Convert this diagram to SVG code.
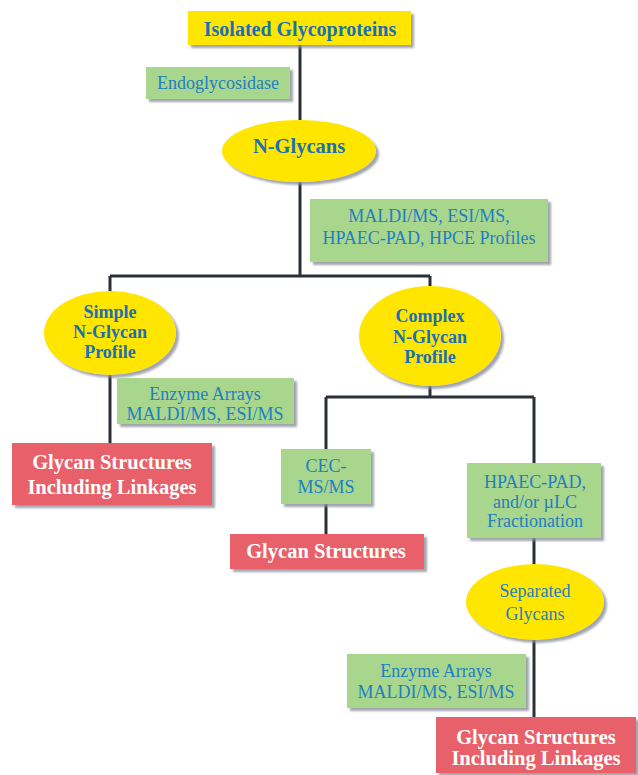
<svg xmlns="http://www.w3.org/2000/svg" width="638" height="775" viewBox="0 0 638 775">
  <defs>
    <filter id="shadow" x="-10%" y="-10%" width="130%" height="140%">
      <feDropShadow dx="3" dy="3" stdDeviation="1" flood-color="#8a8f9a" flood-opacity="0.8"/>
    </filter>
  </defs>
  <style>
    .yellow { fill: #ffe600; filter: url(#shadow); }
    .green { fill: #a8d68c; filter: url(#shadow); }
    .red { fill: #e8616a; filter: url(#shadow); }
    .link { stroke: #2b2f36; stroke-width: 3; fill: none; }
    text { font-family: "Liberation Serif", "Times New Roman", serif; text-anchor: middle; dominant-baseline: central; }
    .bold { font-weight: bold; fill: #1b6fb3; }
    .plain { fill: #1f7fc2; font-size: 18px; }
    .white { font-weight: bold; fill: #ffffff; font-size: 20.5px; }
  </style>

  <!-- connectors -->
  <g id="connectors" class="link">
    <path d="M300 45 V120"/>
    <path d="M300 182 V276"/>
    <path d="M110 276 H430"/>
    <path d="M110 276 V292"/>
    <path d="M430 276 V286"/>
    <path d="M110 375 V443"/>
    <path d="M430 386 V397"/>
    <path d="M326 397 H534"/>
    <path d="M326 397 V449"/>
    <path d="M326 504 V534"/>
    <path d="M534 397 V463"/>
    <path d="M534 538 V565"/>
    <path d="M534 640 V717"/>
  </g>

  <g id="isolated-glycoproteins">
    <rect class="yellow" x="188" y="11" width="223" height="34"/>
    <text class="bold" x="300" y="29" font-size="20">Isolated Glycoproteins</text>
  </g>

  <g id="endoglycosidase">
    <rect class="green" x="146" y="67" width="144" height="32"/>
    <text class="plain" x="218" y="83">Endoglycosidase</text>
  </g>

  <g id="n-glycans">
    <ellipse class="yellow" cx="299" cy="151" rx="77" ry="31"/>
    <text class="bold" x="299" y="146" font-size="20.5">N-Glycans</text>
  </g>

  <g id="profiles">
    <rect class="green" x="310" y="199" width="238" height="63"/>
    <text class="plain" x="429" y="216">MALDI/MS, ESI/MS,</text>
    <text class="plain" x="429" y="238">HPAEC-PAD, HPCE Profiles</text>
  </g>

  <g id="simple-profile">
    <ellipse class="yellow" cx="110" cy="333" rx="66" ry="42"/>
    <text class="bold" x="110" y="312" font-size="18">Simple</text>
    <text class="bold" x="110" y="332" font-size="18">N-Glycan</text>
    <text class="bold" x="110" y="352" font-size="18">Profile</text>
  </g>

  <g id="complex-profile">
    <ellipse class="yellow" cx="430" cy="336" rx="71" ry="50"/>
    <text class="bold" x="430" y="316" font-size="18">Complex</text>
    <text class="bold" x="430" y="337" font-size="18">N-Glycan</text>
    <text class="bold" x="430" y="357" font-size="18">Profile</text>
  </g>

  <g id="enzyme-arrays-1">
    <rect class="green" x="117" y="378" width="177" height="46"/>
    <text class="plain" x="205" y="394">Enzyme Arrays</text>
    <text class="plain" x="205" y="414">MALDI/MS, ESI/MS</text>
  </g>

  <g id="structures-linkages-1">
    <rect class="red" x="12" y="443" width="200" height="62"/>
    <text class="white" x="112" y="462">Glycan Structures</text>
    <text class="white" x="112" y="487">Including Linkages</text>
  </g>

  <g id="cec-msms">
    <rect class="green" x="281" y="449" width="90" height="55"/>
    <text class="plain" x="326" y="466">CEC-</text>
    <text class="plain" x="326" y="487">MS/MS</text>
  </g>

  <g id="glycan-structures">
    <rect class="red" x="230" y="534" width="194" height="35"/>
    <text class="white" x="326" y="551">Glycan Structures</text>
  </g>

  <g id="fractionation">
    <rect class="green" x="467" y="463" width="134" height="75"/>
    <text class="plain" x="535" y="482">HPAEC-PAD,</text>
    <text class="plain" x="535" y="502">and/or µLC</text>
    <text class="plain" x="535" y="521">Fractionation</text>
  </g>

  <g id="separated-glycans">
    <ellipse class="yellow" cx="535" cy="602" rx="69" ry="38"/>
    <text class="plain" x="535" y="591" font-size="21">Separated</text>
    <text class="plain" x="535" y="614" font-size="21">Glycans</text>
  </g>

  <g id="enzyme-arrays-2">
    <rect class="green" x="347" y="654" width="179" height="54"/>
    <text class="plain" x="436" y="671">Enzyme Arrays</text>
    <text class="plain" x="436" y="692">MALDI/MS, ESI/MS</text>
  </g>

  <g id="structures-linkages-2">
    <rect class="red" x="436" y="717" width="200" height="56"/>
    <text class="white" x="536" y="737">Glycan Structures</text>
    <text class="white" x="536" y="758">Including Linkages</text>
  </g>
</svg>
